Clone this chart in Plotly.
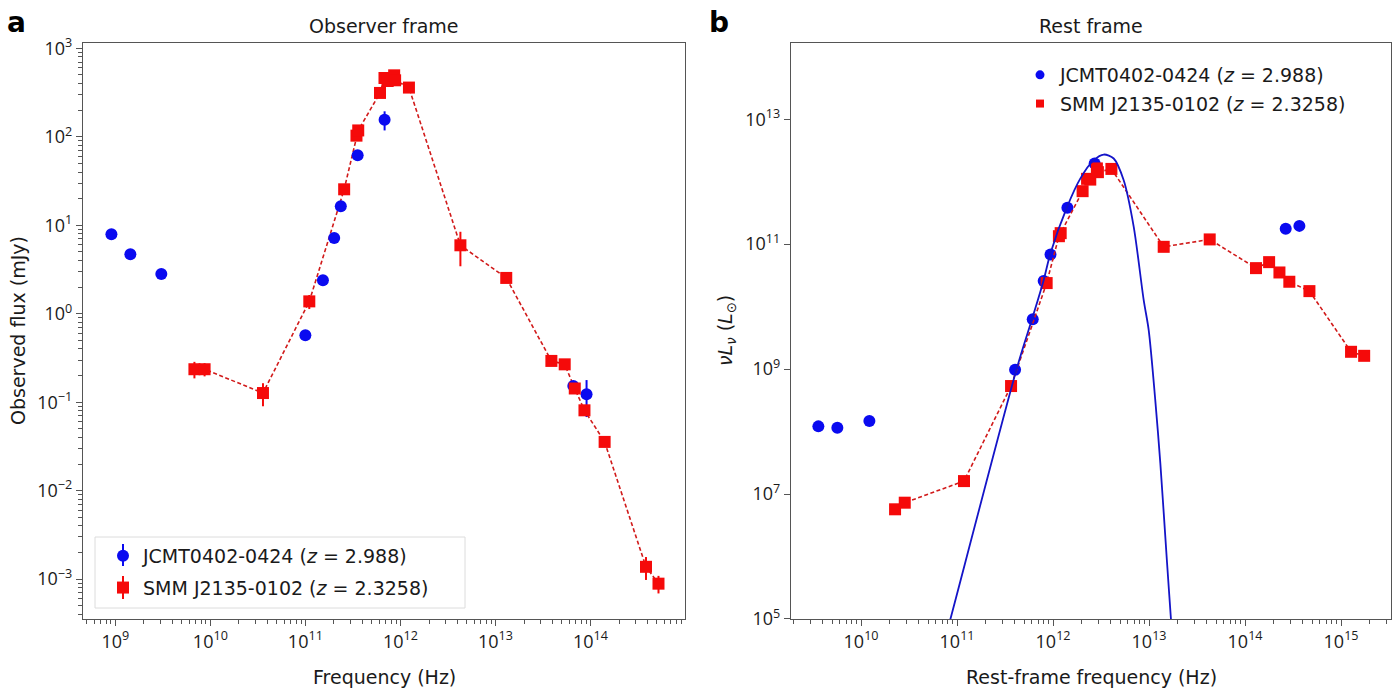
import plotly.graph_objects as go

# ---------------- data ----------------
# Panel a: observer frame, frequency (Hz) vs observed flux (mJy)
obs_blue_nu = [9.1e8, 1.44e9, 3.05e9, 1.0e11, 1.53e11, 2.01e11, 2.36e11, 3.55e11, 6.82e11, 6.6e13, 9.1e13]
obs_blue_flux = [7.9, 4.7, 2.82, 0.57, 2.39, 7.2, 16.4, 61.8, 156, 0.153, 0.123]
obs_blue_err = [0.3, 0.2, 0.15, 0.03, 0.1, 0.3, 0.6, 3, 38, 0.01, 0.055]

obs_red_nu = [6.8e9, 8.7e9, 3.58e10, 1.1e11, 2.56e11, 3.45e11, 3.6e11, 6.1e11, 6.8e11, 7.35e11,
              8.6e11, 8.8e11, 1.23e12, 4.28e12, 1.3e13, 3.88e13, 5.36e13, 6.84e13, 8.65e13,
              1.41e14, 3.84e14, 5.2e14]
obs_red_flux = [0.236, 0.236, 0.127, 1.38, 25.5, 103, 118, 313, 462, 427,
                495, 435, 360, 5.94, 2.54, 0.293, 0.268, 0.143, 0.081,
                0.0356, 0.00138, 0.00089]
obs_red_err = [0.05, 0.04, 0.037, 0.25, 2, 10, 10, 25, 40, 40,
               40, 40, 30, 2.5, 0.2, 0.03, 0.02, 0.015, 0.01,
               0.003, 0.0004, 0.0002]

# Panel b: rest frame, rest-frame frequency (Hz) vs nu L_nu (L_sun)
rest_blue_nu = [3.59e9, 5.66e9, 1.22e10, 4.02e11, 6.14e11, 7.98e11, 9.4e11, 1.41e12, 2.71e12, 2.65e14, 3.68e14]
rest_blue_L = [1.21e8, 1.15e8, 1.47e8, 9.75e8, 6.3e9, 2.56e10, 6.84e10, 3.81e11, 1.95e12, 1.76e11, 1.96e11]

rest_red_nu = [2.26e10, 2.85e10, 1.18e11, 3.65e11, 8.57e11, 1.15e12, 1.2e12, 2.03e12, 2.26e12, 2.44e12,
               2.86e12, 2.93e12, 4.05e12, 1.42e13, 4.28e13, 1.3e14, 1.78e14, 2.28e14, 2.89e14,
               4.68e14, 1.27e15, 1.74e15]
rest_red_L = [5.69e6, 7.26e6, 1.61e7, 5.35e8, 2.38e10, 1.34e11, 1.5e11, 7.05e11, 1.11e12, 1.08e12,
              1.63e12, 1.42e12, 1.6e12, 9.06e10, 1.19e11, 4.13e10, 5.15e10, 3.52e10, 2.5e10,
              1.77e10, 1.89e9, 1.63e9]

# SED fit curve
fit_nu = [7.93e10, 8.51e10, 4.15e11, 6.14e11, 7.98e11, 9.38e11, 1.40e12, 1.92e12, 2.65e12, 3.37e12,
          4.28e12, 5.43e12, 6.92e12, 8.79e12, 9.91e12, 1.16e13, 1.31e13, 1.54e13, 1.69e13, 1.73e13]
fit_L = [6.67e4, 9.9e4, 9.75e8, 6.87e9, 2.65e10, 7.1e10, 3.95e11, 1.12e12, 2.21e12, 2.72e12,
         2.35e12, 1.06e12, 1.89e11, 1.27e10, 4.21e9, 3.19e8, 3.10e7, 7.78e5, 9.9e4, 6.2e4]

name_blue = "JCMT0402-0424 (<i>z</i> = 2.988)"
name_red = "SMM J2135-0102 (<i>z</i> = 2.3258)"

# tick labels
a_xtick_vals = [1e9, 1e10, 1e11, 1e12, 1e13, 1e14]
a_xtick_text = ["10<sup>9</sup>", "10<sup>10</sup>", "10<sup>11</sup>", "10<sup>12</sup>", "10<sup>13</sup>", "10<sup>14</sup>"]
a_ytick_vals = [1e-3, 1e-2, 1e-1, 1e0, 1e1, 1e2, 1e3]
a_ytick_text = ["10<sup>−3</sup>", "10<sup>−2</sup>", "10<sup>−1</sup>", "10<sup>0</sup>", "10<sup>1</sup>", "10<sup>2</sup>", "10<sup>3</sup>"]
b_xtick_vals = [1e10, 1e11, 1e12, 1e13, 1e14, 1e15]
b_xtick_text = ["10<sup>10</sup>", "10<sup>11</sup>", "10<sup>12</sup>", "10<sup>13</sup>", "10<sup>14</sup>", "10<sup>15</sup>"]
b_ytick_vals = [1e5, 1e7, 1e9, 1e11, 1e13]
b_ytick_text = ["10<sup>5</sup>", "10<sup>7</sup>", "10<sup>9</sup>", "10<sup>11</sup>", "10<sup>13</sup>"]

# ---------------- styling ----------------
W, H = 1400, 689
BLUE = "#0a0af0"
RED = "#f50a0a"
DASH_RED = "#d11a1a"
FIT_BLUE = "#1414c8"
AXC = "#555555"
TXT = "#1a1a1a"
FONT = "DejaVu Sans"
TICKFONT = "Open Sans"


def minor_vals(lo, hi):
    out = []
    for e in range(lo, hi + 1):
        for m in range(2, 10):
            out.append(m * 10.0 ** e)
    return out


def xd(p):
    return p / W


def yd(p):
    return 1 - p / H


fig = go.Figure()

# ---- panel a ----
fig.add_trace(go.Scatter(x=obs_red_nu, y=obs_red_flux, mode="lines",
                         line=dict(color=DASH_RED, width=1.6, dash="4px,2.5px"),
                         showlegend=False, hoverinfo="skip", xaxis="x", yaxis="y"))
fig.add_trace(go.Scatter(x=obs_blue_nu, y=obs_blue_flux, mode="markers", name=name_blue,
                         marker=dict(symbol="circle", size=12, color=BLUE),
                         error_y=dict(type="data", array=obs_blue_err, symmetric=True,
                                      color=BLUE, thickness=2, width=0),
                         xaxis="x", yaxis="y", legend="legend", legendgroup="g1"))
fig.add_trace(go.Scatter(x=obs_red_nu, y=obs_red_flux, mode="markers", name=name_red,
                         marker=dict(symbol="square", size=12, color=RED),
                         error_y=dict(type="data", array=obs_red_err, symmetric=True,
                                      color=RED, thickness=2, width=0),
                         xaxis="x", yaxis="y", legend="legend", legendgroup="g2"))

# ---- panel b ----
fig.add_trace(go.Scatter(x=rest_blue_nu, y=rest_blue_L, mode="markers", name=name_blue,
                         marker=dict(symbol="circle", size=12, color=BLUE),
                         showlegend=False, xaxis="x2", yaxis="y2"))
fig.add_trace(go.Scatter(x=rest_red_nu, y=rest_red_L, mode="lines",
                         line=dict(color=DASH_RED, width=1.6, dash="4px,2.5px"),
                         showlegend=False, hoverinfo="skip", xaxis="x2", yaxis="y2"))
fig.add_trace(go.Scatter(x=rest_red_nu, y=rest_red_L, mode="markers", name=name_red,
                         marker=dict(symbol="square", size=12, color=RED),
                         showlegend=False, xaxis="x2", yaxis="y2"))
fig.add_trace(go.Scatter(x=fit_nu, y=fit_L, mode="lines",
                         line=dict(color=FIT_BLUE, width=1.8, shape="spline", smoothing=0.8),
                         showlegend=False, hoverinfo="skip", xaxis="x2", yaxis="y2"))
# legend entries for panel b (smaller markers)
fig.add_trace(go.Scatter(x=[None], y=[None], mode="markers", name=name_blue,
                         marker=dict(symbol="circle", size=9, color=BLUE),
                         xaxis="x2", yaxis="y2", legend="legend2", legendgroup="h1"))
fig.add_trace(go.Scatter(x=[None], y=[None], mode="markers", name=name_red,
                         marker=dict(symbol="square", size=8, color=RED),
                         xaxis="x2", yaxis="y2", legend="legend2", legendgroup="h2"))

axis_common = dict(type="log", showline=True, linecolor=AXC, linewidth=1.3, mirror=True,
                   ticks="outside", ticklen=6, tickwidth=1, tickcolor=AXC,
                   showgrid=False, zeroline=False, tickmode="array",
                   tickfont=dict(family=TICKFONT, size=18, color=TXT))

fig.update_layout(
    width=W, height=H,
    margin=dict(l=0, r=0, t=0, b=0, pad=0, autoexpand=False),
    paper_bgcolor="white", plot_bgcolor="white",
    font=dict(family=FONT, size=19, color=TXT),
    xaxis=dict(axis_common, domain=[xd(83), xd(685)], anchor="y", range=[8.66, 14.995],
               tickvals=a_xtick_vals, ticktext=a_xtick_text,
               minor=dict(tickmode="array", tickvals=minor_vals(8, 14), ticks="outside",
                          ticklen=4, tickcolor=AXC, showgrid=False)),
    yaxis=dict(axis_common, domain=[yd(619), yd(43)], anchor="x", range=[-3.45, 3.06],
               tickvals=a_ytick_vals, ticktext=a_ytick_text,
               minor=dict(tickmode="array", tickvals=minor_vals(-4, 2), ticks="outside",
                          ticklen=4, tickcolor=AXC, showgrid=False)),
    xaxis2=dict(axis_common, domain=[xd(791), xd(1391)], anchor="y2", range=[9.27, 15.52],
                tickvals=b_xtick_vals, ticktext=b_xtick_text,
                minor=dict(tickmode="array", tickvals=minor_vals(9, 15), ticks="outside",
                           ticklen=4, tickcolor=AXC, showgrid=False)),
    yaxis2=dict(axis_common, domain=[yd(619), yd(43)], anchor="x2", range=[4.999, 14.22],
                tickvals=b_ytick_vals, ticktext=b_ytick_text),
    legend=dict(x=xd(103), y=yd(537), xanchor="left", yanchor="top",
                bgcolor="rgba(0,0,0,0)", borderwidth=0,
                font=dict(family=FONT, size=19, color=TXT),
                tracegroupgap=4, itemwidth=30),
    legend2=dict(x=xd(1020), y=yd(56), xanchor="left", yanchor="top",
                 bgcolor="rgba(0,0,0,0)", borderwidth=0,
                 font=dict(family=FONT, size=19, color=TXT), itemwidth=30,
                 tracegroupgap=1),
)

# legend frame of panel a
fig.add_shape(type="rect", xref="paper", yref="paper",
              x0=xd(95), x1=xd(465), y0=yd(608), y1=yd(537),
              line=dict(color="#dcdcdc", width=1), fillcolor="white", layer="below")
# error-bar strokes on the panel-a legend symbols
fig.add_shape(type="line", xref="paper", yref="paper", x0=xd(123), x1=xd(123),
              y0=yd(544), y1=yd(566), line=dict(color=BLUE, width=2))
fig.add_shape(type="line", xref="paper", yref="paper", x0=xd(123), x1=xd(123),
              y0=yd(576), y1=yd(599), line=dict(color=RED, width=2))

ann = [
    dict(text="<b>a</b>", x=xd(16), y=yd(22), font=dict(size=28, family=FONT, color="#000")),
    dict(text="<b>b</b>", x=xd(719), y=yd(22), font=dict(size=28, family=FONT, color="#000")),
    dict(text="Observer frame", x=xd(384), y=yd(26)),
    dict(text="Rest frame", x=xd(1091), y=yd(26)),
    dict(text="Frequency (Hz)", x=xd(384), y=yd(677)),
    dict(text="Rest-frame frequency (Hz)", x=xd(1091), y=yd(677)),
    dict(text="Observed flux (mJy)", x=xd(18), y=yd(331), textangle=-90),
    dict(text="<i>νL</i><sub><i>ν</i></sub> (<i>L</i><sub>⊙</sub>)", x=xd(726), y=yd(331),
         textangle=-90),
]
for a in ann:
    a.update(xref="paper", yref="paper", showarrow=False, xanchor="center", yanchor="middle")
    a.setdefault("font", dict(size=19, family=FONT, color=TXT))
    fig.add_annotation(**a)

fig.write_html("out.html")
